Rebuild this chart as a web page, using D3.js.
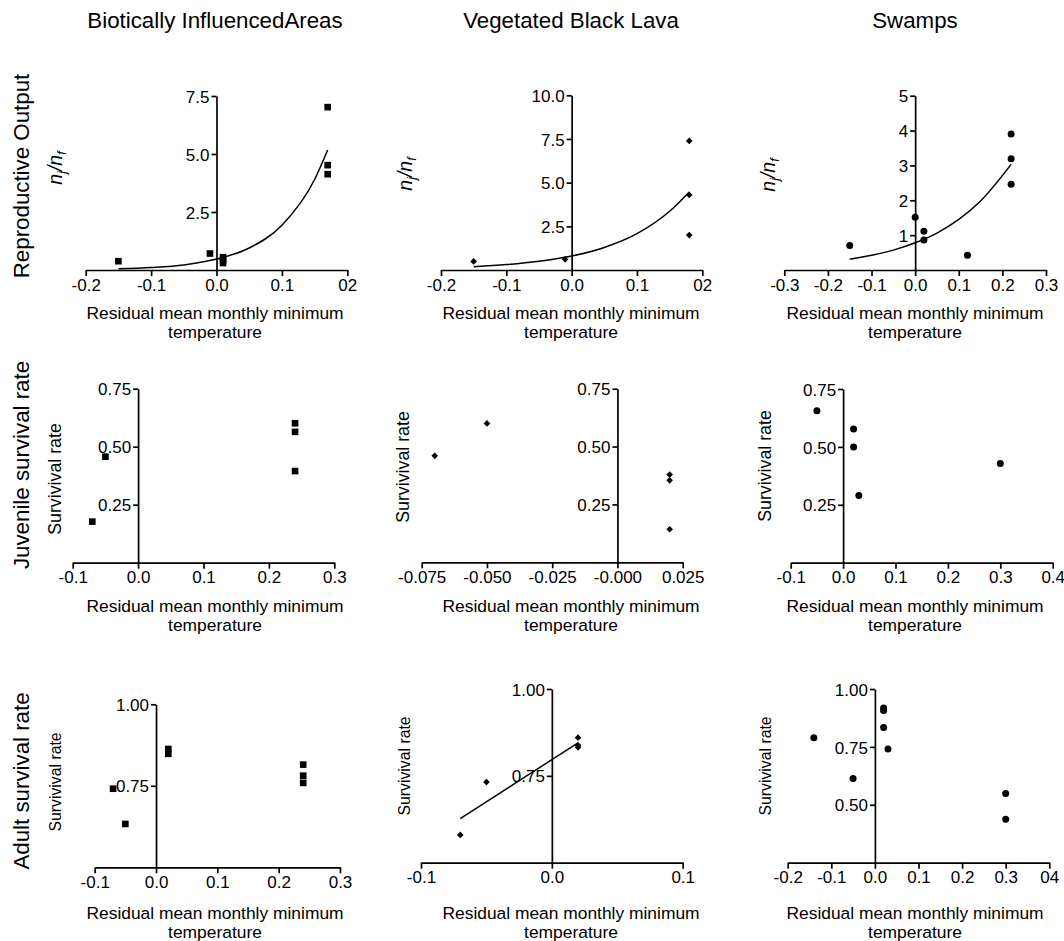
<!DOCTYPE html>
<html><head><meta charset="utf-8">
<script src="https://cdn.jsdelivr.net/npm/d3@7"></script>
<style>
body{margin:0;background:#fff}
svg text{font-family:"Liberation Sans",Arial,Helvetica,sans-serif;fill:#000}
</style>
</head><body>
<svg id="chart" width="1064" height="941"></svg>
<script>
// ---------------- DATA ----------------
const columnTitles = ["Biotically InfluencedAreas", "Vegetated Black Lava", "Swamps"];
const rowTitles = ["Reproductive Output", "Juvenile survival rate", "Adult survival rate"];
const xTitleLines = ["Residual mean monthly minimum", "temperature"];
const survivalLabel = "Survivival rate";

// Row 1: reproductive output (nj/nf)
const repBioX = [-0.15, -0.01, 0.01, 0.01, 0.01, 0.17, 0.17, 0.17];
const repBioY = [0.38, 0.71, 0.55, 0.42, 0.30, 7.02, 4.52, 4.13];
const repBioFitX = [-0.15, -0.10, -0.05, 0.00, 0.05, 0.10, 0.15, 0.17];
const repBioFitY = [0.05, 0.11, 0.22, 0.47, 0.95, 1.93, 3.90, 5.17];

const repLavaX = [-0.15, -0.01, 0.18, 0.18, 0.18];
const repLavaY = [0.49, 0.61, 7.39, 4.30, 2.00];
const repLavaFitX = [-0.15, -0.10, -0.05, 0.00, 0.05, 0.10, 0.15, 0.18];
const repLavaFitY = [0.19, 0.31, 0.50, 0.80, 1.29, 2.08, 3.36, 4.47];

const repSwampX = [-0.15, 0.00, 0.02, 0.02, 0.12, 0.22, 0.22, 0.22];
const repSwampY = [0.70, 1.51, 1.11, 0.86, 0.42, 3.90, 3.19, 2.46];
const repSwampFitX = [-0.15, -0.10, -0.05, 0.00, 0.05, 0.10, 0.15, 0.22];
const repSwampFitY = [0.31, 0.42, 0.57, 0.78, 1.06, 1.45, 1.98, 3.03];

// Row 2: juvenile survival
const juvBioX = [-0.07, -0.05, 0.24, 0.24, 0.24];
const juvBioY = [0.177, 0.457, 0.601, 0.564, 0.395];
const juvLavaX = [-0.07, -0.05, 0.02, 0.02, 0.02];
const juvLavaY = [0.46, 0.60, 0.379, 0.354, 0.143];
const juvSwampX = [-0.05, 0.02, 0.02, 0.03, 0.30];
const juvSwampY = [0.656, 0.577, 0.50, 0.29, 0.428];

// Row 3: adult survival
const adBioX = [-0.07, -0.05, 0.02, 0.02, 0.24, 0.24, 0.24];
const adBioY = [0.741, 0.633, 0.863, 0.848, 0.815, 0.781, 0.759];
const adLavaX = [-0.07, -0.05, 0.02, 0.02, 0.02];
const adLavaY = [0.58, 0.732, 0.86, 0.838, 0.832];
const adLavaFitX = [-0.07, 0.02];
const adLavaFitY = [0.627, 0.845];
const adSwampX = [-0.14, -0.05, 0.02, 0.02, 0.02, 0.03, 0.30, 0.30];
const adSwampY = [0.79, 0.614, 0.918, 0.907, 0.834, 0.741, 0.549, 0.438];

// Tick values and labels
const xTicks4a = [-0.2, -0.1, 0.0, 0.1, 0.2];
const xLabels4a = ["-0.2", "-0.1", "0.0", "0.1", "02"];
const xTicksSw1 = [-0.3, -0.2, -0.1, 0.0, 0.1, 0.2, 0.3];
const xLabelsSw1 = ["-0.3", "-0.2", "-0.1", "0.0", "0.1", "0.2", "0.3"];
const xTicksBio = [-0.1, 0.0, 0.1, 0.2, 0.3];
const xLabelsBio = ["-0.1", "0.0", "0.1", "0.2", "0.3"];
const xTicksLava2 = [-0.075, -0.050, -0.025, 0.0, 0.025];
const xLabelsLava2 = ["-0.075", "-0.050", "-0.025", "-0.000", "0.025"];
const xTicksSw2 = [-0.1, 0.0, 0.1, 0.2, 0.3, 0.4];
const xLabelsSw2 = ["-0.1", "0.0", "0.1", "0.2", "0.3", "0.4"];
const xTicksLava3 = [-0.1, 0.0, 0.1];
const xLabelsLava3 = ["-0.1", "0.0", "0.1"];
const xTicksSw3 = [-0.2, -0.1, 0.0, 0.1, 0.2, 0.3, 0.4];
const xLabelsSw3 = ["-0.2", "-0.1", "0.0", "0.1", "0.2", "0.3", "04"];

const yTicksBio1 = [2.5, 5.0, 7.5];   const yLabelsBio1 = ["2.5", "5.0", "7.5"];
const yTicksLava1 = [2.5, 5.0, 7.5, 10.0]; const yLabelsLava1 = ["2.5", "5.0", "7.5", "10.0"];
const yTicksSw1 = [1, 2, 3, 4, 5];    const yLabelsSw1 = ["1", "2", "3", "4", "5"];
const yTicksJuv = [0.25, 0.50, 0.75]; const yLabelsJuv = ["0.25", "0.50", "0.75"];
const yTicksAd = [0.75, 1.00];        const yLabelsAd = ["0.75", "1.00"];
const yTicksAdSw = [0.50, 0.75, 1.00]; const yLabelsAdSw = ["0.50", "0.75", "1.00"];

// ---------------- LAYOUT ----------------
const colCenters = [215, 571, 915];
const rowCenters = [176, 465, 781];
const xTitleBase = [319, 612, 919];

const panels = [
  {r:0,c:0,x:repBioX,y:repBioY,fx:repBioFitX,fy:repBioFitY,xd:[-0.2,0.2],yd:[0,7.5],xr:[85.7,347.3],yr:[270,96],
   xt:xTicks4a,xl:xLabels4a,yt:yTicksBio1,yl:yLabelsBio1,m:"square",lab:"n",lx:62,ly:168},
  {r:0,c:1,x:repLavaX,y:repLavaY,fx:repLavaFitX,fy:repLavaFitY,xd:[-0.2,0.2],yd:[0,10],xr:[441,702.3],yr:[270,95.3],
   xt:xTicks4a,xl:xLabels4a,yt:yTicksLava1,yl:yLabelsLava1,m:"diamond",lab:"n",lx:412,ly:174},
  {r:0,c:2,x:repSwampX,y:repSwampY,fx:repSwampFitX,fy:repSwampFitY,xd:[-0.3,0.3],yd:[0,5],xr:[784.3,1046],yr:[270,95.7],
   xt:xTicksSw1,xl:xLabelsSw1,yt:yTicksSw1,yl:yLabelsSw1,m:"circle",lab:"n",lx:775,ly:175},
  {r:1,c:0,x:juvBioX,y:juvBioY,xd:[-0.1,0.3],yd:[0,0.75],xr:[72.7,334.3],yr:[562.7,388.7],
   xt:xTicksBio,xl:xLabelsBio,yt:yTicksJuv,yl:yLabelsJuv,m:"square",lab:"s",lx:61,ly:479,lfs:17.8},
  {r:1,c:1,x:juvLavaX,y:juvLavaY,xd:[-0.075,0.025],yd:[0,0.75],xr:[421.7,682.7],yr:[562.3,388.7],
   xt:xTicksLava2,xl:xLabelsLava2,yt:yTicksJuv,yl:yLabelsJuv,m:"diamond",lab:"s",lx:409,ly:467,lfs:17.8},
  {r:1,c:2,x:juvSwampX,y:juvSwampY,xd:[-0.1,0.4],yd:[0,0.75],xr:[790.7,1052.7],yr:[562.7,389],
   xt:xTicksSw2,xl:xLabelsSw2,yt:yTicksJuv,yl:yLabelsJuv,m:"circle",lab:"s",lx:771,ly:466,lfs:17.8},
  {r:2,c:0,x:adBioX,y:adBioY,xd:[-0.1,0.3],yd:[0.5,1.0],xr:[94.7,340],yr:[867.3,704.3],
   xt:xTicksBio,xl:xLabelsBio,yt:yTicksAd,yl:yLabelsAd,m:"square",lab:"s",lx:61,ly:782,lfs:15.8},
  {r:2,c:1,x:adLavaX,y:adLavaY,fx:adLavaFitX,fy:adLavaFitY,fitLinear:true,xd:[-0.1,0.1],yd:[0.5,1.0],xr:[421,682.7],yr:[862.7,689],
   xt:xTicksLava3,xl:xLabelsLava3,yt:yTicksAd,yl:yLabelsAd,m:"diamond",lab:"s",lx:410,ly:766,lfs:15.8},
  {r:2,c:2,x:adSwampX,y:adSwampY,xd:[-0.2,0.4],yd:[0.25,1.0],xr:[787.7,1049.3],yr:[862.7,689],
   xt:xTicksSw3,xl:xLabelsSw3,yt:yTicksAdSw,yl:yLabelsAdSw,m:"circle",lab:"s",lx:771,ly:766,lfs:15.8}
];

const svg = d3.select("#chart");
const font = '"Liberation Sans",Arial,Helvetica,sans-serif';

// Column titles
svg.selectAll("text.coltitle").data(columnTitles).join("text")
  .attr("class","coltitle")
  .attr("x",(d,i)=>colCenters[i]).attr("y",28)
  .attr("text-anchor","middle").attr("font-size",22.3).text(d=>d);

// Row titles
svg.selectAll("text.rowtitle").data(rowTitles).join("text")
  .attr("class","rowtitle")
  .attr("transform",(d,i)=>`translate(29,${rowCenters[i]}) rotate(-90)`)
  .attr("text-anchor","middle").attr("font-size",22.3).text(d=>d);

panels.forEach(p => {
  const g = svg.append("g");
  const xs = d3.scaleLinear().domain(p.xd).range(p.xr);
  const ys = d3.scaleLinear().domain(p.yd).range(p.yr);
  const x0 = xs(0);

  // X axis
  const xa = g.append("g").attr("transform",`translate(0,${p.yr[0]})`)
    .call(d3.axisBottom(xs).tickValues(p.xt).tickFormat((d,i)=>p.xl[i]).tickSize(6).tickSizeOuter(0));
  xa.select(".domain").attr("stroke","#000").attr("stroke-width",1.7);
  xa.selectAll(".tick line").attr("stroke","#000").attr("stroke-width",1.7);
  xa.selectAll(".tick text").attr("y",20.5).attr("dy",0).attr("font-size",17).attr("font-family",font).attr("fill","#000");

  // Y axis at x = 0
  const ya = g.append("g").attr("transform",`translate(${x0},0)`)
    .call(d3.axisLeft(ys).tickValues(p.yt).tickFormat((d,i)=>p.yl[i]).tickSize(5).tickSizeOuter(0).tickPadding(2));
  ya.select(".domain").attr("stroke","#000").attr("stroke-width",1.7);
  ya.selectAll(".tick line").attr("stroke","#000").attr("stroke-width",1.7);
  ya.selectAll(".tick text").attr("font-size",17).attr("font-family",font).attr("fill","#000").attr("dy","0.36em");

  // fit curve
  if (p.fx) {
    const pts = p.fx.map((v,i)=>[v,p.fy[i]]);
    const line = d3.line().x(d=>xs(d[0])).y(d=>ys(d[1]))
      .curve(p.fitLinear ? d3.curveLinear : d3.curveMonotoneX);
    g.append("path").attr("d",line(pts)).attr("fill","none").attr("stroke","#000").attr("stroke-width",1.5);
  }

  // markers
  const pts = p.x.map((v,i)=>[v,p.y[i]]);
  if (p.m === "circle") {
    g.selectAll("circle.pt").data(pts).join("circle").attr("class","pt")
      .attr("cx",d=>xs(d[0])).attr("cy",d=>ys(d[1])).attr("r",3.5).attr("fill","#000");
  } else if (p.m === "square") {
    const sym = d3.symbol().type(d3.symbolSquare).size(44);
    g.selectAll("path.pt").data(pts).join("path").attr("class","pt")
      .attr("d",sym).attr("transform",d=>`translate(${xs(d[0])},${ys(d[1])})`).attr("fill","#000");
  } else {
    const sym = d3.symbol().type(d3.symbolSquare).size(22);
    g.selectAll("path.pt").data(pts).join("path").attr("class","pt")
      .attr("d",sym).attr("transform",d=>`translate(${xs(d[0])},${ys(d[1])}) rotate(45)`).attr("fill","#000");
  }

  // Y label
  if (p.lab === "n") {
    const t = g.append("text").attr("transform",`translate(${p.lx},${p.ly}) rotate(-90)`)
      .attr("text-anchor","middle").attr("font-size",19.5).attr("font-style","italic");
    t.append("tspan").text("n");
    t.append("tspan").attr("font-size",12.5).attr("dy",4).text("j");
    t.append("tspan").attr("dy",-4).text("/n");
    t.append("tspan").attr("font-size",12.5).attr("dy",4).text("f");
  } else {
    g.append("text").attr("transform",`translate(${p.lx},${p.ly}) rotate(-90)`)
      .attr("text-anchor","middle").attr("font-size",p.lfs).text(survivalLabel);
  }

  // X title
  g.selectAll("text.xt").data(xTitleLines).join("text").attr("class","xt")
    .attr("x",colCenters[p.c]).attr("y",(d,i)=>xTitleBase[p.r]+i*19)
    .attr("text-anchor","middle").attr("font-size",17.4).text(d=>d);
});
</script>
</body></html>
